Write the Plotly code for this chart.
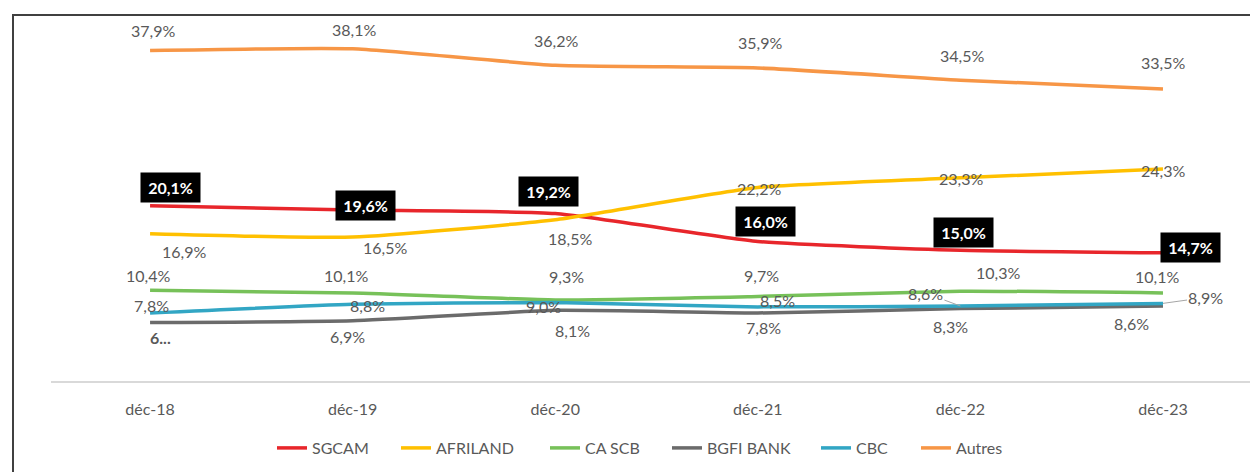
import plotly.graph_objects as go

# ---------------- data ----------------
categories = ["déc-18", "déc-19", "déc-20", "déc-21", "déc-22", "déc-23"]
sgcam = [20.1, 19.6, 19.2, 16.0, 15.0, 14.7]
afriland = [16.9, 16.5, 18.5, 22.2, 23.3, 24.3]
ca_scb = [10.4, 10.1, 9.3, 9.7, 10.3, 10.1]
bgfi = [6.7, 6.9, 8.1, 7.8, 8.3, 8.6]
cbc = [7.8, 8.8, 9.0, 8.5, 8.6, 8.9]
autres = [37.9, 38.1, 36.2, 35.9, 34.5, 33.5]
series_names = ["SGCAM", "AFRILAND", "CA SCB", "BGFI BANK", "CBC", "Autres"]

# ---------------- styles ----------------
colors = {
    "SGCAM": "#E8262B",
    "AFRILAND": "#FFC000",
    "CA SCB": "#77C159",
    "BGFI BANK": "#6B6B6B",
    "CBC": "#32A6C4",
    "Autres": "#F79646",
}
FONT = "Lato, Calibri, Carlito, 'Open Sans', sans-serif"
LABEL_COLOR = "#595959"
FS = 16

# label offsets in pixels (dx right, dy down) per series / point
offsets = {
    "SGCAM": [(20, -18), (13, -5), (-7, -22), (8, -20), (3, -18), (28, -5)],
    "AFRILAND": [(34, 18), (32, 10), (15, 19), (1, 1), (1, 1), (0, 1)],
    "CA SCB": [(-2, -15), (-7, -17), (11, -23), (4, -21), (38, -19), (-6, -16)],
    "BGFI BANK": [(10, 15), (-5, 16), (17, 20), (6, 15), (-10, 18), (-31, 17)],
    "CBC": [(1, -7), (15, 1), (-12, 4), (20, -6), (-35, -13), (43, -6)],
    "Autres": [(3, -20), (1, -19), (1, -25), (2, -25), (2, -25), (0, -26)],
}
leader_points = {"CBC": [4, 5]}
# absolute page x of each legend entry's swatch start
legend_x_px = [282, 406, 555, 677, 826, 926]


def fmt(v):
    return f"{v:.1f}%".replace(".", ",")


data = {
    "SGCAM": sgcam,
    "AFRILAND": afriland,
    "CA SCB": ca_scb,
    "BGFI BANK": bgfi,
    "CBC": cbc,
    "Autres": autres,
}

legend_ids = ["legend"] + [f"legend{k}" for k in range(2, len(series_names) + 1)]

fig = go.Figure()
for k, name in enumerate(series_names):
    fig.add_trace(
        go.Scatter(
            x=categories,
            y=data[name],
            mode="lines",
            name=name,
            legend=legend_ids[k],
            line=dict(color=colors[name], width=3.5, shape="spline", smoothing=0.5),
            hoverinfo="skip",
        )
    )

annotations = []
for name in series_names:
    vals = data[name]
    for i, (c, v) in enumerate(zip(categories, vals)):
        dx, dy = offsets[name][i]
        text = fmt(v)
        if name == "BGFI BANK" and i == 0:
            text = "<b>6...</b>"
        if name == "SGCAM":
            annotations.append(
                dict(
                    x=c, y=v, xref="x", yref="y", text="<b>" + text + "</b>",
                    showarrow=False, xshift=dx, yshift=-dy,
                    bgcolor="#000000", width=57, height=27,
                    font=dict(family=FONT, size=FS, color="#FFFFFF"),
                )
            )
        elif i in leader_points.get(name, []):
            annotations.append(
                dict(
                    x=c, y=v, xref="x", yref="y", text=text,
                    showarrow=True, ax=dx, ay=dy, arrowhead=0,
                    arrowwidth=1, arrowcolor="#A6A6A6", standoff=0,
                    font=dict(family=FONT, size=FS, color=LABEL_COLOR),
                )
            )
        else:
            annotations.append(
                dict(
                    x=c, y=v, xref="x", yref="y", text=text,
                    showarrow=False, xshift=dx, yshift=-dy,
                    font=dict(family=FONT, size=FS, color=LABEL_COLOR),
                )
            )

# page body has an 8px margin; positions below are in absolute page pixels
OFF = 8
W, H = 1258 - OFF, 472 - OFF
PLOT_L, PLOT_T, PLOT_B = 51, 15, 381
ML = PLOT_L - OFF
MT = PLOT_T - OFF
MB = H - (PLOT_B - OFF)
MR = 0
pw = W - ML - MR
ph = H - MT - MB


def px_to_paper_x(px):
    return (px - PLOT_L) / pw


def px_to_paper_y(py):
    return (PLOT_B - py) / ph


legend_layouts = {}
for k, lid in enumerate(legend_ids):
    legend_layouts[lid] = dict(
        orientation="h",
        x=px_to_paper_x(legend_x_px[k] - 10),
        xanchor="left",
        y=px_to_paper_y(448),
        yanchor="middle",
        font=dict(family=FONT, size=FS, color=LABEL_COLOR),
        itemwidth=30,
        bgcolor="rgba(0,0,0,0)",
        borderwidth=0,
    )

fig.update_layout(
    width=W,
    height=H,
    margin=dict(l=ML, r=MR, t=MT, b=MB, pad=0),
    paper_bgcolor="#FFFFFF",
    plot_bgcolor="#FFFFFF",
    font=dict(family=FONT, size=FS, color=LABEL_COLOR),
    showlegend=True,
    annotations=annotations,
    shapes=[
        dict(
            type="rect", xref="paper", yref="paper",
            x0=px_to_paper_x(13), x1=1.05, y0=px_to_paper_y(500), y1=px_to_paper_y(15),
            line=dict(color="#404040", width=2), layer="below",
        )
    ],
    hovermode=False,
    **legend_layouts,
)

fig.update_xaxes(
    type="category",
    range=[-0.489, 5.469],
    showline=True,
    linecolor="#D9D9D9",
    linewidth=1.5,
    showgrid=False,
    zeroline=False,
    ticks="",
    ticklabelstandoff=13,
    tickfont=dict(family=FONT, size=FS, color=LABEL_COLOR),
    fixedrange=True,
)
fig.update_yaxes(
    range=[0, ph / 8.72],
    visible=False,
    showgrid=False,
    zeroline=False,
    fixedrange=True,
)

fig.write_html("out.html")
